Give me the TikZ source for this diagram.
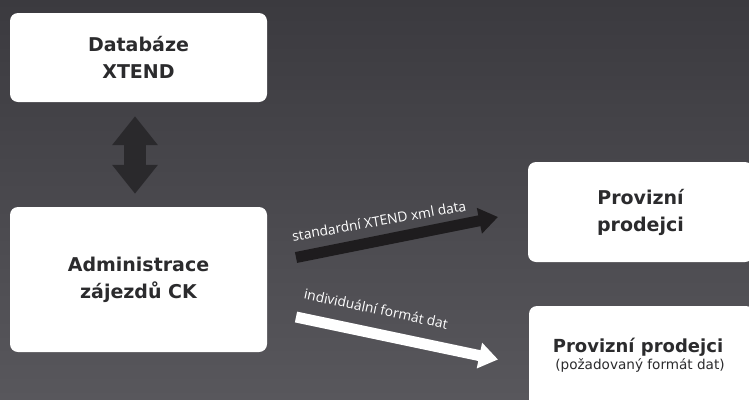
\documentclass[tikz,border=0pt]{standalone}
\usepackage{fontspec}
\setmainfont{DejaVu Sans}
\newfontfamily\labelfont{Open Sans}
\usetikzlibrary{arrows.meta,calc}
\definecolor{bgtop}{HTML}{3B3A3F}
\definecolor{bgbot}{HTML}{58575C}
\definecolor{boxtext}{HTML}{2B2B2D}
\definecolor{darkarrow}{HTML}{2A292C}
\definecolor{blackarrow}{HTML}{1E1C1E}
\tikzset{
  box/.style={draw=none, fill=white, rounded corners=8pt, inner sep=0pt, align=center,
    text=boxtext, font=\bfseries\fontsize{19}{27}\selectfont},
  lbl/.style={text=white, font=\labelfont\fontsize{13.8}{16}\selectfont, anchor=base, inner sep=0pt},
}
\begin{document}
\begin{tikzpicture}[x=1pt,y=-1pt]
\useasboundingbox (0,0) rectangle (749,399);
\shade[top color=bgtop, bottom color=bgbot] (0,0) rectangle (749,399);
% boxes
\node[box, minimum width=257pt, minimum height=89pt] (db) at (138.5,57.5) {Databáze\\XTEND};
\node[box, minimum width=257pt, minimum height=145pt] (adm) at (138.5,279.5) {Administrace\\zájezdů CK};
\node[box, minimum width=225pt, minimum height=100pt] (pp1) at (640.5,212) {Provizní\\prodejci};
\node[box, minimum width=225pt, minimum height=110pt] (pp2) at (641.5,361) {};
\node[text=boxtext, align=center, inner sep=0pt, anchor=base] (pp2t) at (638,352)
  {{\bfseries\fontsize{18}{18}\selectfont Provizní prodejci}};
\node[text=boxtext, inner sep=0pt, anchor=base] (pp2s) at (640,369)
  {\fontsize{13.6}{15}\selectfont (požadovaný formát dat)};
% double arrow
\coordinate (da1) at ($(db.south)+(-3.5,14)$);
\coordinate (da2) at ($(adm.north)+(-3.5,-13)$);
\draw[darkarrow, line width=22pt, {Triangle[width=44pt,length=29pt]}-{Triangle[width=44pt,length=29pt]}] (da1) -- (da2);
% black arrow
\coordinate (ba1) at (296,257.5);
\coordinate (ba2) at (498,217);
\draw[blackarrow, line width=11pt, -{Triangle[width=25pt,length=19pt]}] (ba1) -- (ba2);
% white arrow
\coordinate (wa1) at (296,317);
\coordinate (wa2) at (498,359.5);
\draw[white, line width=11pt, -{Triangle[width=25pt,length=19pt]}] (wa1) -- (wa2);
% labels
\node[lbl, rotate=10] (l1) at (380,226) {standardní XTEND xml data};
\node[lbl, rotate=-12] (l2) at (375,314) {individuální formát dat};
\end{tikzpicture}
\end{document}
